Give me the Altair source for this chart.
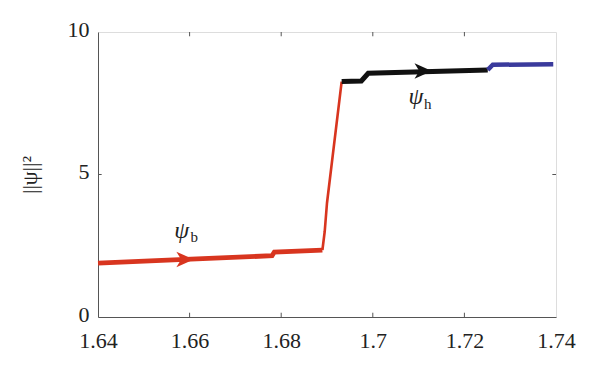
import altair as alt
import pandas as pd

# Series values
b_x = [1.640, 1.659, 1.678, 1.6785, 1.689]
b_y = [1.89, 2.02, 2.15, 2.28, 2.35]
jump_x = [1.689, 1.6895, 1.6900, 1.6932]
jump_y = [2.35, 3.0, 4.0, 8.26]
h_x = [1.6932, 1.6975, 1.6990, 1.7251]
h_y = [8.26, 8.28, 8.55, 8.67]
blue_x = [1.7251, 1.7262, 1.7394]
blue_y = [8.67, 8.85, 8.87]

arrow_x = [1.659, 1.711]
arrow_y = [2.02, 8.63]
arrow_c = ["b", "h"]

lab_x = [1.6583, 1.7094]
lab_y = [3.02, 7.72]
sub_x = [1.6610, 1.7120]
sub_y = [2.80, 7.47]
sub_t = ["b", "h"]

x_ticks = [1.64, 1.66, 1.68, 1.70, 1.72, 1.74]
y_ticks = [0, 5, 10]

colors = {"b": "#d8351f", "jump": "#d8351f", "h": "#111111", "blue": "#3a3a9c"}
widths = {"b": 4.8, "jump": 2.6, "h": 5, "blue": 4.5}

rows = []
for name, xs, ys in [("b", b_x, b_y), ("jump", jump_x, jump_y), ("h", h_x, h_y), ("blue", blue_x, blue_y)]:
    for i, (x, y) in enumerate(zip(xs, ys)):
        rows.append({"s": name, "x": x, "y": y, "o": i})
df = pd.DataFrame(rows)

xs = alt.Scale(domain=[1.64, 1.74], nice=False, zero=False)
ys = alt.Scale(domain=[0, 10], nice=False)
FONT = "Liberation Serif"

base = alt.Chart(df)
lines = []
for name in ["b", "jump", "h", "blue"]:
    lines.append(
        base.transform_filter(alt.datum.s == name)
        .mark_line(color=colors[name], strokeWidth=widths[name], strokeCap="butt")
        .encode(
            x=alt.X("x:Q", scale=xs,
                    axis=alt.Axis(values=x_ticks, format="~g", title=None, grid=False,
                                  tickSize=0, labelFont=FONT, labelFontSize=22,
                                  labelColor="#222", labelPadding=13, domainColor="#555",
                                  labelFlush=False)),
            y=alt.Y("y:Q", scale=ys,
                    axis=alt.Axis(values=y_ticks, title="||ψ||²", grid=False,
                                  tickSize=0, labelFont=FONT, labelFontSize=22,
                                  labelColor="#222", labelPadding=9, labelOffset=-3,
                                  domainColor="#555",
                                  titleFont=FONT, titleFontSize=22, titleFontWeight="normal",
                                  titleColor="#222", titlePadding=26)),
            order="o:Q",
        )
    )

arr_df = pd.DataFrame({"x": arrow_x, "y": arrow_y, "c": arrow_c})
arrows = alt.Chart(arr_df).mark_point(
    shape="M-1,-0.9 L1,0 L-1,0.9 L-0.45,0 Z", filled=True, size=300, opacity=1
).encode(
    x=alt.X("x:Q", scale=xs),
    y=alt.Y("y:Q", scale=ys),
    color=alt.Color("c:N", scale=alt.Scale(domain=["b", "h"], range=[colors["b"], colors["h"]]), legend=None),
)

lab_df = pd.DataFrame({"x": lab_x, "y": lab_y, "t": ["ψ", "ψ"]})
psi = alt.Chart(lab_df).mark_text(font=FONT, fontSize=24, fontStyle="italic", color="#222").encode(
    x=alt.X("x:Q", scale=xs), y=alt.Y("y:Q", scale=ys), text="t:N"
)
sub_df = pd.DataFrame({"x": sub_x, "y": sub_y, "t": sub_t})
subs = alt.Chart(sub_df).mark_text(font=FONT, fontSize=15, color="#222").encode(
    x=alt.X("x:Q", scale=xs), y=alt.Y("y:Q", scale=ys), text="t:N"
)

# inward tick marks (MATLAB box style)
inner_x = x_ticks[1:-1]
tb = pd.DataFrame({"x": inner_x * 2,
                   "y": [0.0] * len(inner_x) + [10.0] * len(inner_x),
                   "y2": [0.15] * len(inner_x) + [9.85] * len(inner_x)})
xt = alt.Chart(tb).mark_rule(color="#555", strokeWidth=1).encode(
    x=alt.X("x:Q", scale=xs), y=alt.Y("y:Q", scale=ys), y2="y2:Q"
)
lr = pd.DataFrame({"x": [1.64, 1.74], "x2": [1.6408, 1.7392], "y": [5, 5]})
yt = alt.Chart(lr).mark_rule(color="#555", strokeWidth=1).encode(
    x=alt.X("x:Q", scale=xs), x2="x2:Q", y=alt.Y("y:Q", scale=ys)
)

chart = alt.layer(*lines, arrows, psi, subs, xt, yt).properties(
    width=458, height=285,
    autosize=alt.AutoSizeParams(type="none"),
    padding={"left": 90, "top": 24, "right": 30, "bottom": 45},
).configure_view(stroke="#555", strokeWidth=1).configure(
    background="white", font=FONT
).configure_axis(labelFont=FONT, titleFont=FONT).configure_text(font=FONT)

chart.save("out.html", embed_options={"renderer": "svg", "actions": False})
